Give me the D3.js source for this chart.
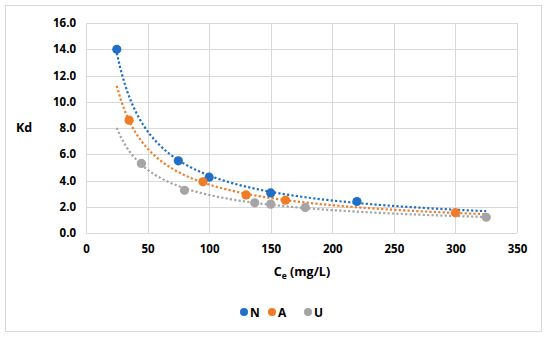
<!DOCTYPE html>
<html>
<head>
<meta charset="utf-8">
<script src="https://cdn.jsdelivr.net/npm/d3@7"></script>
<style>
html,body{margin:0;padding:0;background:#fff;}
svg{display:block;font-family:"Open Sans",Lato,Arial,sans-serif;}
</style>
</head>
<body>
<svg id="chart" width="550" height="339"></svg>
<script>
const seriesNames = ["N", "A", "U"];
const seriesColors = ["#1f6fc6", "#f07c28", "#a5a5a5"];
const xN = [25, 75, 100, 150, 220];
const yN = [14.0, 5.5, 4.25, 3.05, 2.4];
const xA = [35, 95, 130, 162, 300];
const yA = [8.6, 3.9, 2.9, 2.5, 1.55];
const xU = [45, 80, 137, 150, 178, 325];
const yU = [5.3, 3.25, 2.3, 2.2, 1.95, 1.2];
const xTicks = [0, 50, 100, 150, 200, 250, 300, 350];
const yTicks = [0, 2, 4, 6, 8, 10, 12, 14, 16];

const series = [
  {name: seriesNames[0], color: seriesColors[0], xs: xN, ys: yN},
  {name: seriesNames[1], color: seriesColors[1], xs: xA, ys: yA},
  {name: seriesNames[2], color: seriesColors[2], xs: xU, ys: yU}
];
const FONT = "'Open Sans', Lato, Arial, sans-serif";

const svg = d3.select("#chart");
svg.append("rect").attr("x", 5.5).attr("y", 5.5).attr("width", 536).attr("height", 326)
  .attr("fill", "#fff").attr("stroke", "#d9d9d9").attr("stroke-width", 1);

const x = d3.scaleLinear().domain([0, 350]).range([86, 517]);
const y = d3.scaleLinear().domain([0, 16]).range([233, 23]);

svg.append("g").selectAll("line").data(yTicks).join("line")
  .attr("x1", x(0)).attr("x2", x(350))
  .attr("y1", d => Math.round(y(d)) + 0.5).attr("y2", d => Math.round(y(d)) + 0.5)
  .attr("stroke", "#d9d9d9").attr("stroke-width", 1);
svg.append("g").selectAll("line").data(xTicks).join("line")
  .attr("y1", y(0)).attr("y2", y(16))
  .attr("x1", d => Math.round(x(d)) + 0.5).attr("x2", d => Math.round(x(d)) + 0.5)
  .attr("stroke", "#d9d9d9").attr("stroke-width", 1);

const xAxis = svg.append("g").attr("transform", `translate(0,${y(0)})`)
  .call(d3.axisBottom(x).tickValues(xTicks).tickSize(0).tickPadding(12).tickFormat(d3.format("d")));
xAxis.select(".domain").remove();
xAxis.selectAll("text").attr("font-size", 11.5).attr("font-weight", "bold").attr("fill", "#000")
  .attr("font-family", FONT);

const yAxis = svg.append("g").attr("transform", `translate(${x(0)},0)`)
  .call(d3.axisLeft(y).tickValues(yTicks).tickSize(0).tickPadding(10).tickFormat(d3.format(".1f")));
yAxis.select(".domain").remove();
yAxis.selectAll("text").attr("font-size", 11.5).attr("font-weight", "bold").attr("fill", "#000")
  .attr("font-family", FONT);

svg.append("text").attr("x", 24).attr("y", 132).attr("text-anchor", "middle")
  .attr("font-size", 12.5).attr("font-weight", "bold").text("Kd");
const xt = svg.append("text").attr("x", 302).attr("y", 276).attr("text-anchor", "middle")
  .attr("font-size", 12.5).attr("font-weight", "bold");
xt.append("tspan").text("C");
xt.append("tspan").attr("font-size", 8.5).attr("dy", 3).text("e");
xt.append("tspan").attr("dy", -3).text(" (mg/L)");

const allX = [].concat(xN, xA, xU);
const xMin = d3.min(allX), xMax = d3.max(allX);
function powerFit(xs, ys) {
  const lx = xs.map(Math.log), ly = ys.map(Math.log);
  const mx = d3.mean(lx), my = d3.mean(ly);
  let sxy = 0, sxx = 0;
  lx.forEach((v, i) => { sxy += (v - mx) * (ly[i] - my); sxx += (v - mx) * (v - mx); });
  const b = sxy / sxx, a = Math.exp(my - b * mx);
  return t => a * Math.pow(t, b);
}
const line = d3.line().x(d => x(d[0])).y(d => y(d[1]));
const trendG = svg.append("g");
series.forEach(s => {
  const f = powerFit(s.xs, s.ys);
  const pts = d3.range(0, 101).map(i => {
    const t = xMin + (xMax - xMin) * i / 100;
    return [t, f(t)];
  });
  trendG.append("path").attr("d", line(pts)).attr("fill", "none")
    .attr("stroke", s.color).attr("stroke-width", 2.2)
    .attr("stroke-dasharray", "2.2,2.2");
});

series.forEach(s => {
  svg.append("g").selectAll("circle").data(s.xs.map((v, i) => [v, s.ys[i]])).join("circle")
    .attr("cx", d => x(d[0])).attr("cy", d => y(d[1])).attr("r", 4.6)
    .attr("fill", s.color);
});

const legX = [244, 272, 308];
const leg = svg.append("g");
series.forEach((s, i) => {
  leg.append("circle").attr("cx", legX[i]).attr("cy", 312).attr("r", 4).attr("fill", s.color);
  leg.append("text").attr("x", legX[i] + 6).attr("y", 316.5).attr("font-size", 12)
    .attr("font-weight", "bold").text(s.name);
});
</script>
</body>
</html>
